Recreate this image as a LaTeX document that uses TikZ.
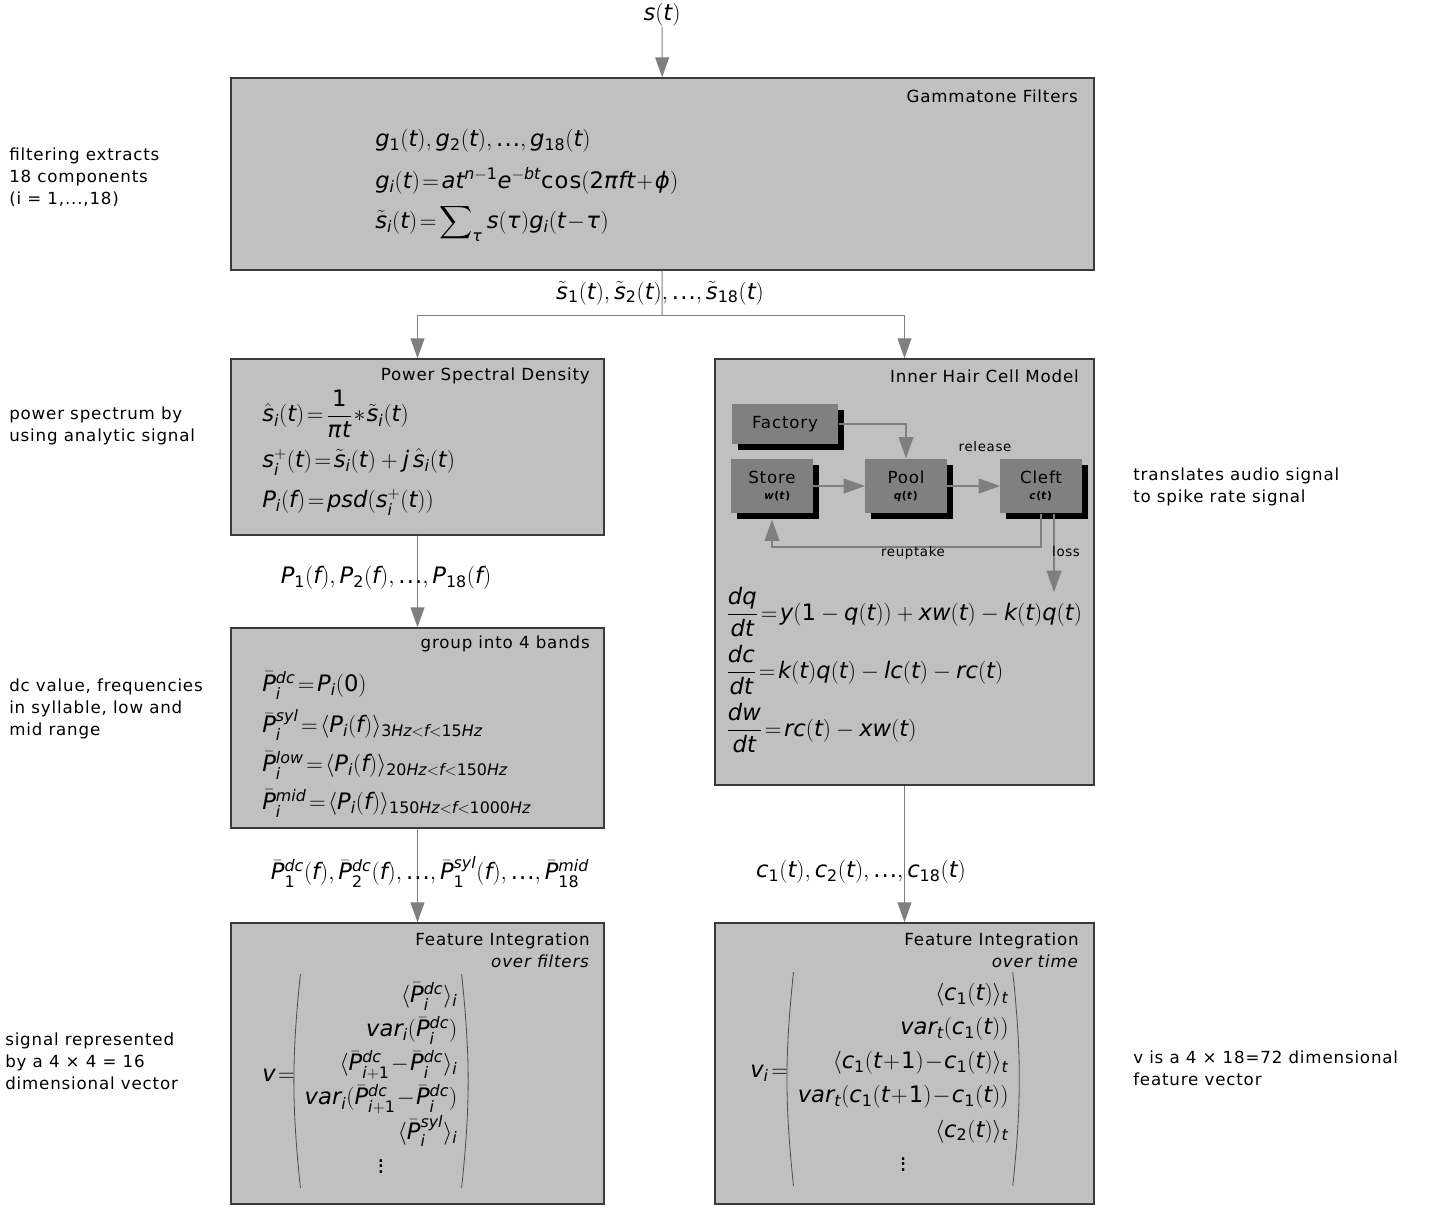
\documentclass[tikz,border=0pt]{standalone}
\usepackage{amsmath}
\usepackage{mathspec}
\setmainfont{DejaVu Sans}[LetterSpace=5]
\setmathsfont(Digits,Latin,Greek){DejaVu Sans}
\usepackage{xcolor}
\usetikzlibrary{arrows.meta, positioning, calc, fit, shadows}
\definecolor{boxfill}{HTML}{C0C0C0}
\definecolor{boxline}{HTML}{3A3A3A}
\definecolor{partfill}{HTML}{808080}
\definecolor{wire}{HTML}{7F7F7F}
\tikzset{
    stage/.style={rectangle, draw=boxline, fill=boxfill, line width=1.1pt, inner sep=0pt},
    part/.style={rectangle, fill=partfill, inner sep=0pt, align=center, font=\fontsize{12.5}{12}\selectfont,
        drop shadow={shadow xshift=4.5pt, shadow yshift=-4.5pt, fill=black, opacity=1}},
    title/.style={anchor=east, inner sep=0pt, font=\fontsize{12.5}{16.5}\selectfont},
    note/.style={anchor=west, align=left, inner sep=0pt, font=\fontsize{12.5}{16.5}\selectfont},
    small/.style={font=\fontsize{10}{11}\selectfont},
    eq/.style={anchor=west, inner sep=0pt, font=\fontsize{17}{20}\selectfont},
    vec/.style={eq, inner xsep=3pt, minimum height=160pt},
    paren/.style={draw=black!70, line width=0.6pt},
    arrow/.style={draw=wire, line width=0.75pt, -{Triangle[width=10.5pt,length=15pt]}},
    wireline/.style={draw=wire, line width=0.75pt},
    innerarrow/.style={draw=wire, line width=1.4pt, -{Triangle[width=11pt,length=16pt]}}
}
\newcommand{\dts}{\mbox{...}}

\begin{document}
\begin{tikzpicture}[x=0.75pt, y=-0.75pt]
    \useasboundingbox (0,0) rectangle (1444,1207);

    % main stages
    \node (gamma) [stage, fit={(231,78) (1094,270)}] {};
    \node (psd) [stage, fit={(231,359) (604,535)}] {};
    \node (bands) [stage, fit={(231,628) (604,828)}] {};
    \node (featF) [stage, fit={(231,923) (604,1204)}] {};
    \node (ihc) [stage, fit={(715,359) (1094,785)}] {};
    \node (featT) [stage, fit={(715,923) (1094,1204)}] {};

    % titles
    \node [title] at (1078,96) {Gammatone Filters};
    \node [title] at (590,376) {Power Spectral Density};
    \node [title] at (1079,376) {Inner Hair Cell Model};
    \node [title] at (590,644) {group into 4 bands};
    \node [title, align=right, anchor=north east] at (590,933) {Feature Integration\\ \textit{over filters}};
    \node [title, align=right, anchor=north east] at (1079,933) {Feature Integration\\ \textit{over time}};

    % input
    \node (input) [eq, anchor=center] at (662,15) {$s(t)$};
    \draw [arrow] (input) -- (gamma);

    % gammatone equations
    \node [eq] at (375,141) {$g_1(t),g_2(t),\dts,g_{18}(t)$};
    \node [eq] at (375,181) {$g_i(t)\!=\!at^{n-1}e^{-bt}\mbox{cos}(2\pi ft\!+\!\varphi)$};
    \node [eq] at (375,223) {$\tilde{s}_i(t)\!=\!\displaystyle\sum\nolimits_\tau s(\tau)g_i(t\!-\!\tau)$};

    % split to both branches
    \coordinate (split) at (662,315);
    \draw [wireline] (gamma) -- (split);
    \draw [arrow] (split) -| (psd);
    \draw [arrow] (split) -| (ihc);
    \node [eq, anchor=center] at (660,293) {$\tilde{s}_1(t),\tilde{s}_2(t),\dts,\tilde{s}_{18}(t)$};

    % power spectral density
    \node [eq] at (262,414) {$\hat{s}_i(t)\!=\!\dfrac{1}{\pi t}\!*\!\tilde{s}_i(t)$};
    \node [eq] at (262,462) {$s_i^+(t)\!=\!\tilde{s}_i(t)+j\,\hat{s}_i(t)$};
    \node [eq] at (262,502) {$P_i(f)\!=\!psd(s_i^+(t))$};

    \draw [arrow] (psd) -- (bands);
    \node [eq, anchor=center] at (386,578) {$P_1(f),P_2(f),\dts,P_{18}(f)$};

    % bands
    \node [eq] at (262,685) {$\bar{P}_i^{dc}\!=\!P_i(0)$};
    \node [eq] at (262,725) {$\bar{P}_i^{syl}\!=\!\langle P_i(f)\rangle_{3Hz<f<15Hz}$};
    \node [eq] at (262,765) {$\bar{P}_i^{low}\!=\!\langle P_i(f)\rangle_{20Hz<f<150Hz}$};
    \node [eq] at (262,803) {$\bar{P}_i^{mid}\!=\!\langle P_i(f)\rangle_{150Hz<f<1000Hz}$};

    \draw [arrow] (bands) -- (featF);
    \node [eq, anchor=center] at (430,872) {$\bar{P}_1^{dc}(f),\bar{P}_2^{dc}(f),\dts,\bar{P}_1^{syl}(f),\dts,\bar{P}_{18}^{mid}$};

    % feature integration over filters
    \node (vF) [eq] at (262,1075) {$v\!=$};
    \node (vecF) [vec, right=4pt of vF, yshift=-4.5pt] {$\renewcommand{\arraystretch}{1.28}\begin{array}{@{}r@{}}
        \langle\bar{P}_i^{dc}\rangle_i\\
        var_i(\bar{P}_i^{dc})\\
        \langle\bar{P}_{i+1}^{dc}\!-\!\bar{P}_i^{dc}\rangle_i\\
        var_i(\bar{P}_{i+1}^{dc}\!-\!\bar{P}_i^{dc})\\
        \langle\bar{P}_i^{syl}\rangle_i\\
        \multicolumn{1}{c}{\vdots}
        \end{array}$};
    \draw [paren] (vecF.north west) to[bend right=6] (vecF.south west);
    \draw [paren] (vecF.north east) to[bend left=6] (vecF.south east);

    % inner hair cell model
    \node (factory) [part, minimum width=80pt, minimum height=30pt] at (785,424) {Factory};
    \node (store) [part, minimum width=61pt, minimum height=41pt] at (772,486) {Store\\{\fontsize{8}{9}\selectfont\hspace{8pt}\textbf{\textit{w}(\textit{t})}}};
    \node (pool) [part, minimum width=61pt, minimum height=41pt] at (906,486) {Pool\\{\fontsize{8}{9}\selectfont\textbf{\textit{q}(\textit{t})}}};
    \node (cleft) [part, minimum width=61pt, minimum height=41pt] at (1041,486) {Cleft\\{\fontsize{8}{9}\selectfont\textbf{\textit{c}(\textit{t})}}};
    \coordinate (sink) at (1054,592);

    \draw [innerarrow] (factory.east) -| (pool.north);
    \draw [innerarrow] (store) -- (pool);
    \draw [innerarrow] (pool) -- (cleft);
    \draw [innerarrow] (cleft.south) -- ++(0,33) -| ([yshift=-4.5pt]store.south);
    \draw [innerarrow] (sink |- cleft.south) -- (sink);
    \node [small] at (985,447) {release};
    \node [small] at (913,553) {reuptake};
    \node [small] at (1066,552) {loss};

    \node [eq] at (726,612) {$\dfrac{dq}{dt}\!=\!y(1-q(t))+xw(t)-k(t)q(t)$};
    \node [eq] at (726,670) {$\dfrac{dc}{dt}\!=\!k(t)q(t)-lc(t)-rc(t)$};
    \node [eq] at (726,728) {$\dfrac{dw}{dt}\!=\!rc(t)-xw(t)$};

    \draw [arrow] (ihc) -- (featT);
    \node [eq, anchor=center] at (861,872) {$c_1(t),c_2(t),\dts,c_{18}(t)$};

    % feature integration over time
    \node (vT) [eq] at (750,1073) {$v_i\!=$};
    \node (vecT) [vec, right=4pt of vT, yshift=-4.5pt] {$\renewcommand{\arraystretch}{1.28}\begin{array}{@{}r@{}}
        \langle c_1(t)\rangle_t\\
        var_t(c_1(t))\\
        \langle c_1(t\!+\!1)\!-\!c_1(t)\rangle_t\\
        var_t(c_1(t\!+\!1)\!-\!c_1(t))\\
        \langle c_2(t)\rangle_t\\
        \multicolumn{1}{c}{\vdots}
        \end{array}$};
    \draw [paren] (vecT.north west) to[bend right=6] (vecT.south west);
    \draw [paren] (vecT.north east) to[bend left=6] (vecT.south east);

    % side notes
    \node [note] at (9,177) {filtering extracts\\18 components\\(i = 1,...,18)};
    \node [note] at (9,426) {power spectrum by\\using analytic signal};
    \node [note] at (9,709) {dc value, frequencies\\in syllable, low and\\mid range};
    \node [note] at (5,1061) {signal represented\\by a 4 × 4 = 16\\dimensional vector};
    \node [note] at (1133,487) {translates audio signal\\to spike rate signal};
    \node [note] at (1133,1068) {v is a 4 × 18=72 dimensional\\feature vector};
\end{tikzpicture}
\end{document}
